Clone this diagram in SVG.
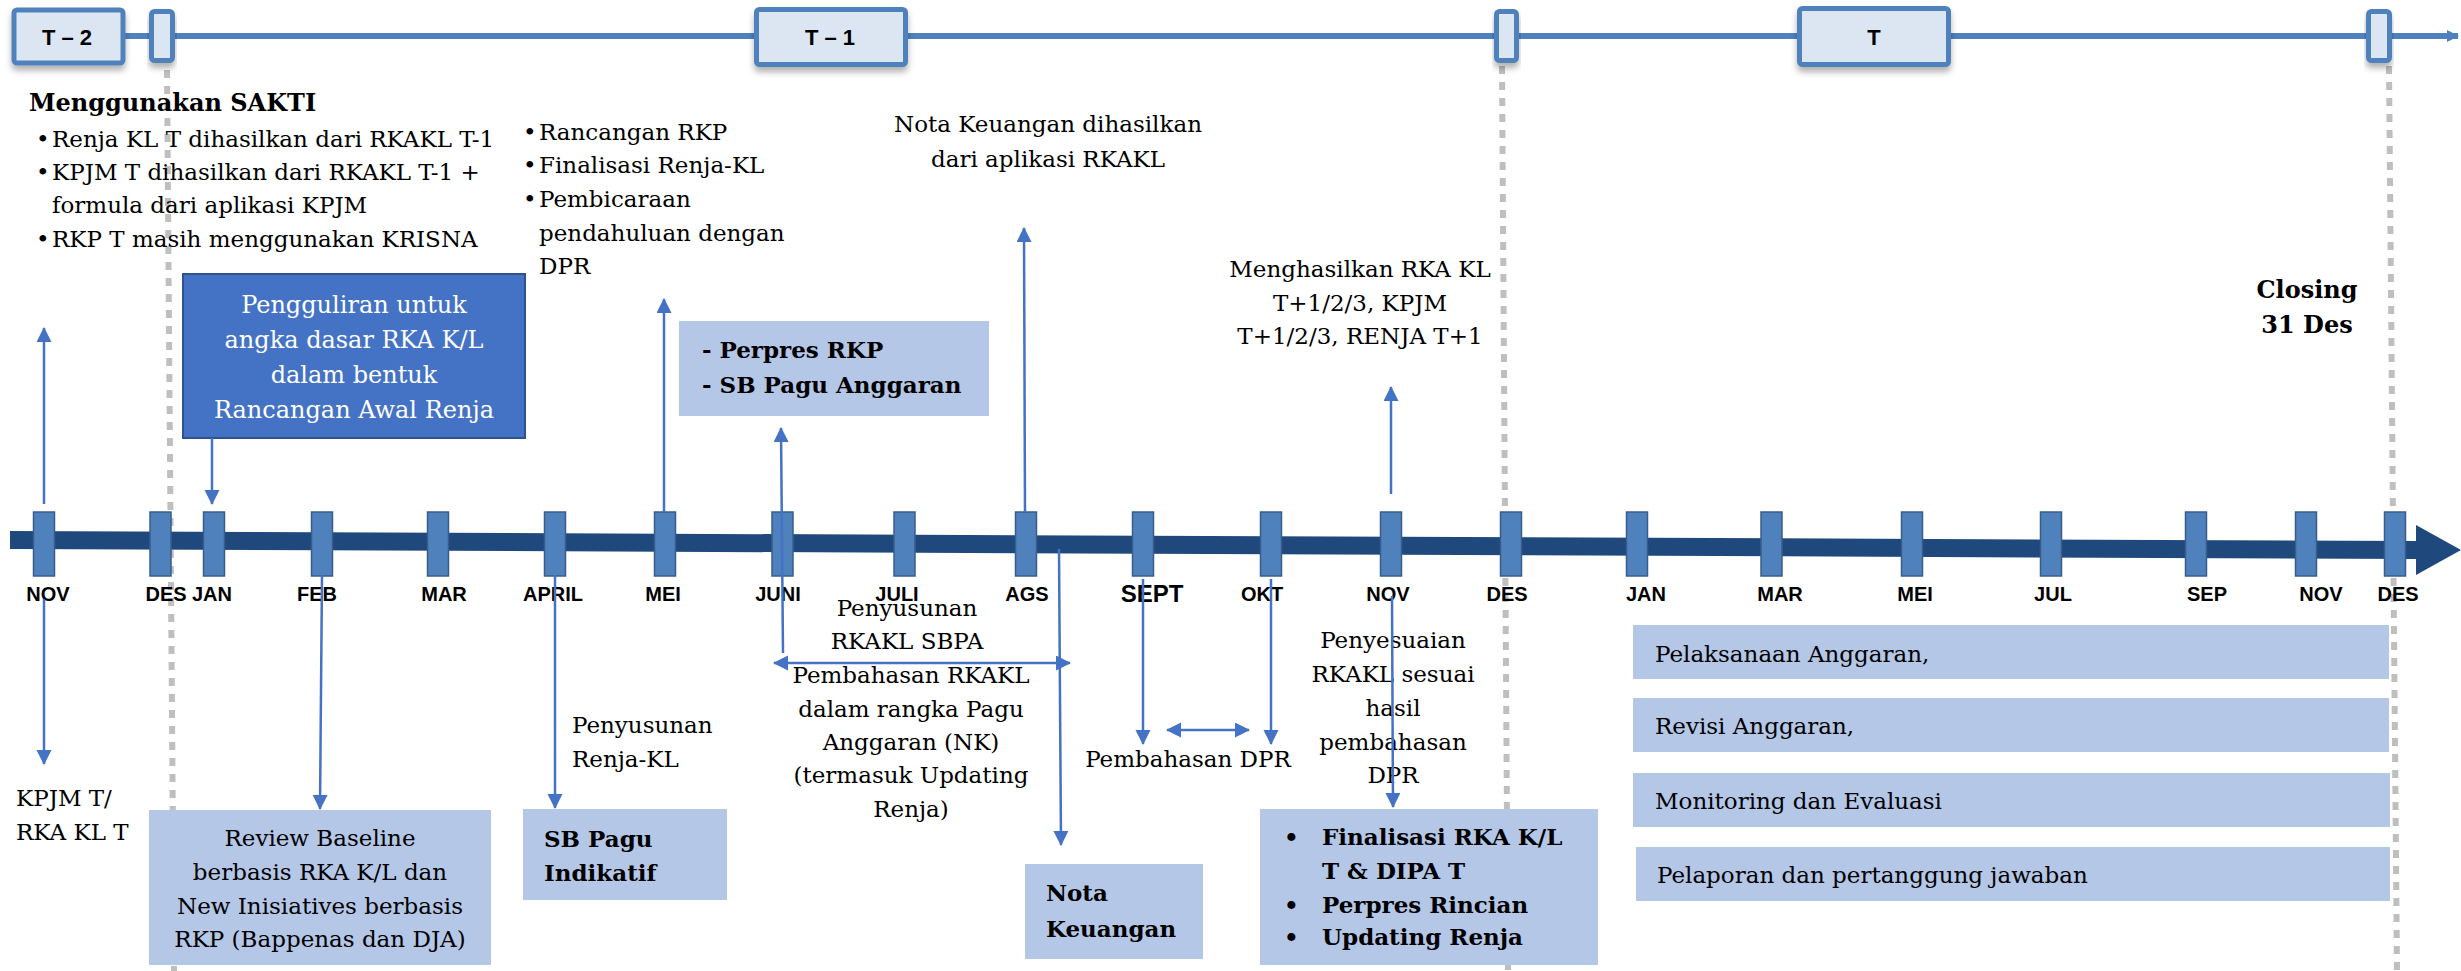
<svg xmlns="http://www.w3.org/2000/svg" width="2461" height="971" viewBox="0 0 2461 971">
<style>
.t{font-family:"DejaVu Serif","Liberation Serif",serif;font-size:23px;fill:#000}
.b{font-weight:bold}
.c{text-anchor:middle}
.w{fill:#fff}
.m{font-family:"Liberation Sans",Arial,sans-serif;font-weight:bold;font-size:20px;text-anchor:middle;fill:#000}
.hd{font-family:"Liberation Sans",Arial,sans-serif;font-weight:bold;font-size:22px;text-anchor:middle;fill:#000}
.tick{fill:#4F81BD;stroke:#385D8A;stroke-width:1.5}
.tbox{fill:#DCE6F2;stroke:#4F81BD;stroke-width:5;filter:url(#sh)}
.lb{fill:#B4C7E7}
.arr{stroke:#4472C4;stroke-width:2.5;fill:none;marker-end:url(#ah)}
.dbl{marker-start:url(#ah)}
.dash{stroke:#BFBFBF;stroke-width:6;stroke-dasharray:8 8;fill:none}
</style>
<defs>
<marker id="ah" markerUnits="userSpaceOnUse" markerWidth="16" markerHeight="16" refX="14" refY="7.5" orient="auto-start-reverse"><path d="M0,0 L15,7.5 L0,15 z" fill="#4472C4"/></marker>
<marker id="ta" markerUnits="userSpaceOnUse" markerWidth="14" markerHeight="14" refX="11" refY="6" orient="auto"><path d="M0,0 L12,6 L0,12 z" fill="#4F81BD"/></marker>
<filter id="sh" x="-20%" y="-20%" width="140%" height="160%"><feDropShadow dx="0" dy="5" stdDeviation="3" flood-color="#000" flood-opacity="0.3"/></filter>
</defs>
<rect width="2461" height="971" fill="#fff"/>

<g id="guides">
<line class="dash" x1="167" y1="70" x2="174" y2="971"/>
<line class="dash" x1="1502" y1="66" x2="1508" y2="971"/>
<line class="dash" x1="2389" y1="66" x2="2397" y2="971"/>
</g>

<g id="top-timeline">
<line x1="120" y1="36" x2="2458" y2="36" stroke="#4F81BD" stroke-width="6" marker-end="url(#ta)"/>
<g id="box-t2"><rect class="tbox" x="14" y="10" width="109" height="53" rx="3"/><text class="hd" x="67" y="45">T – 2</text></g>
<g id="mark-1"><rect class="tbox" x="151.5" y="11.5" width="21" height="49" rx="3"/></g>
<g id="box-t1"><rect class="tbox" x="756.5" y="9.5" width="149" height="55" rx="3"/><text class="hd" x="830" y="45">T – 1</text></g>
<g id="mark-2"><rect class="tbox" x="1496.5" y="11.5" width="20" height="49" rx="3"/></g>
<g id="box-t"><rect class="tbox" x="1799.5" y="8.5" width="149" height="56" rx="3"/><text class="hd" x="1874" y="45">T</text></g>
<g id="mark-3"><rect class="tbox" x="2368.5" y="11.5" width="21" height="49" rx="3"/></g>
</g>

<g id="main-timeline">
<polygon points="10,531 2418,541 2418,559 10,549" fill="#1F497D"/>
<polygon points="2416,525 2461,550 2416,575" fill="#1F497D"/>
<g id="ticks">
<rect class="tick" x="33.5" y="512" width="21" height="64"/>
<rect class="tick" x="150" y="512" width="21" height="64"/>
<rect class="tick" x="203.5" y="512" width="21" height="64"/>
<rect class="tick" x="311.5" y="512" width="21" height="64"/>
<rect class="tick" x="427.5" y="512" width="21" height="64"/>
<rect class="tick" x="544.5" y="512" width="21" height="64"/>
<rect class="tick" x="654.5" y="512" width="21" height="64"/>
<rect class="tick" x="772" y="512" width="21" height="64"/>
<rect class="tick" x="894" y="512" width="21" height="64"/>
<rect class="tick" x="1015.5" y="512" width="21" height="64"/>
<rect class="tick" x="1132.5" y="512" width="21" height="64"/>
<rect class="tick" x="1260.5" y="512" width="21" height="64"/>
<rect class="tick" x="1380.5" y="512" width="21" height="64"/>
<rect class="tick" x="1500.5" y="512" width="21" height="64"/>
<rect class="tick" x="1626.5" y="512" width="21" height="64"/>
<rect class="tick" x="1761" y="512" width="21" height="64"/>
<rect class="tick" x="1901.5" y="512" width="21" height="64"/>
<rect class="tick" x="2040.5" y="512" width="21" height="64"/>
<rect class="tick" x="2185.5" y="512" width="21" height="64"/>
<rect class="tick" x="2295.5" y="512" width="21" height="64"/>
<rect class="tick" x="2384.5" y="512" width="21" height="64"/>
</g>
<g id="month-labels">
<text class="m" x="48" y="601">NOV</text>
<text class="m" x="166" y="601">DES</text>
<text class="m" x="212" y="601">JAN</text>
<text class="m" x="317" y="601">FEB</text>
<text class="m" x="444" y="601">MAR</text>
<text class="m" x="553" y="601">APRIL</text>
<text class="m" x="663" y="601">MEI</text>
<text class="m" x="778" y="601">JUNI</text>
<text class="m" x="897" y="601">JULI</text>
<text class="m" x="1027" y="601">AGS</text>
<text class="m" x="1152" y="602" style="font-size:24px">SEPT</text>
<text class="m" x="1262" y="601">OKT</text>
<text class="m" x="1388" y="601">NOV</text>
<text class="m" x="1507" y="601">DES</text>
<text class="m" x="1646" y="601">JAN</text>
<text class="m" x="1780" y="601">MAR</text>
<text class="m" x="1915" y="601">MEI</text>
<text class="m" x="2053" y="601">JUL</text>
<text class="m" x="2207" y="601">SEP</text>
<text class="m" x="2321" y="601">NOV</text>
<text class="m" x="2398" y="601">DES</text>
</g>
</g>

<g id="note-sakti">
<text class="t b" x="29" y="111" style="font-size:24px">Menggunakan SAKTI</text>
<text class="t" x="36" y="147">•</text><text class="t" x="52" y="147">Renja KL T dihasilkan dari RKAKL T-1</text>
<text class="t" x="36" y="180">•</text><text class="t" x="52" y="180">KPJM T dihasilkan dari RKAKL T-1 +</text>
<text class="t" x="52" y="213">formula dari aplikasi KPJM</text>
<text class="t" x="36" y="247">•</text><text class="t" x="52" y="247">RKP T masih menggunakan KRISNA</text>
</g>

<g id="note-rkp">
<text class="t" x="523" y="140">•</text><text class="t" x="539" y="140">Rancangan RKP</text>
<text class="t" x="523" y="173">•</text><text class="t" x="539" y="173">Finalisasi Renja-KL</text>
<text class="t" x="523" y="207">•</text><text class="t" x="539" y="207">Pembicaraan</text>
<text class="t" x="539" y="241">pendahuluan dengan</text>
<text class="t" x="539" y="274">DPR</text>
</g>

<g id="note-nota">
<text class="t c" x="1048" y="132">Nota Keuangan dihasilkan</text>
<text class="t c" x="1048" y="167">dari aplikasi RKAKL</text>
</g>

<g id="note-menghasilkan">
<text class="t c" x="1360" y="277">Menghasilkan RKA KL</text>
<text class="t c" x="1360" y="311">T+1/2/3, KPJM</text>
<text class="t c" x="1360" y="344">T+1/2/3, RENJA T+1</text>
</g>

<g id="note-closing">
<text class="t b c" x="2307" y="298" style="font-size:24px">Closing</text>
<text class="t b c" x="2307" y="333" style="font-size:24px">31 Des</text>
</g>

<g id="box-pengguliran">
<rect x="183" y="274" width="342" height="164" fill="#4472C4" stroke="#2F528F" stroke-width="2"/>
<text class="t c w" x="354" y="313" style="font-size:24px">Pengguliran untuk</text>
<text class="t c w" x="354" y="348" style="font-size:24px">angka dasar RKA K/L</text>
<text class="t c w" x="354" y="383" style="font-size:24px">dalam bentuk</text>
<text class="t c w" x="354" y="418" style="font-size:24px">Rancangan Awal Renja</text>
</g>

<g id="box-perpres">
<rect class="lb" x="679" y="321" width="310" height="95"/>
<text class="t b" x="702" y="358">- Perpres RKP</text>
<text class="t b" x="702" y="393">- SB Pagu Anggaran</text>
</g>

<g id="note-kpjm">
<text class="t" x="16" y="806">KPJM T/</text>
<text class="t" x="16" y="840">RKA KL T</text>
</g>

<g id="box-review">
<rect class="lb" x="149" y="810" width="342" height="155"/>
<text class="t c" x="320" y="846">Review Baseline</text>
<text class="t c" x="320" y="880">berbasis RKA K/L dan</text>
<text class="t c" x="320" y="914">New Inisiatives berbasis</text>
<text class="t c" x="320" y="947">RKP (Bappenas dan DJA)</text>
</g>

<g id="note-penyusunan-renja">
<text class="t" x="572" y="733">Penyusunan</text>
<text class="t" x="572" y="767">Renja-KL</text>
</g>

<g id="box-sbpagu">
<rect class="lb" x="523" y="809" width="204" height="91"/>
<text class="t b" x="544" y="847">SB Pagu</text>
<text class="t b" x="544" y="881">Indikatif</text>
</g>

<g id="note-rkakl-sbpa">
<text class="t c" x="907" y="616">Penyusunan</text>
<text class="t c" x="907" y="649">RKAKL SBPA</text>
<text class="t c" x="911" y="683">Pembahasan RKAKL</text>
<text class="t c" x="911" y="717">dalam rangka Pagu</text>
<text class="t c" x="911" y="750">Anggaran (NK)</text>
<text class="t c" x="911" y="783">(termasuk Updating</text>
<text class="t c" x="911" y="817">Renja)</text>
</g>

<g id="note-dpr">
<text class="t c" x="1188" y="767">Pembahasan DPR</text>
</g>

<g id="note-penyesuaian">
<text class="t c" x="1393" y="648">Penyesuaian</text>
<text class="t c" x="1393" y="682">RKAKL sesuai</text>
<text class="t c" x="1393" y="716">hasil</text>
<text class="t c" x="1393" y="750">pembahasan</text>
<text class="t c" x="1393" y="783">DPR</text>
</g>

<g id="box-nota">
<rect class="lb" x="1025" y="864" width="178" height="95"/>
<text class="t b" x="1046" y="901">Nota</text>
<text class="t b" x="1046" y="937">Keuangan</text>
</g>

<g id="box-finalisasi">
<rect class="lb" x="1260" y="809" width="338" height="156"/>
<text class="t b" x="1284" y="845">•</text><text class="t b" x="1322" y="845">Finalisasi RKA K/L</text>
<text class="t b" x="1322" y="879">T &amp; DIPA T</text>
<text class="t b" x="1284" y="913">•</text><text class="t b" x="1322" y="913">Perpres Rincian</text>
<text class="t b" x="1284" y="945">•</text><text class="t b" x="1322" y="945">Updating Renja</text>
</g>

<g id="box-pelaksanaan"><rect class="lb" x="1633" y="625" width="756" height="54"/><text class="t" x="1655" y="662">Pelaksanaan Anggaran,</text></g>
<g id="box-revisi"><rect class="lb" x="1633" y="698" width="756" height="54"/><text class="t" x="1655" y="734">Revisi Anggaran,</text></g>
<g id="box-monev"><rect class="lb" x="1633" y="773" width="757" height="54"/><text class="t" x="1655" y="809">Monitoring dan Evaluasi</text></g>
<g id="box-pelaporan"><rect class="lb" x="1636" y="847" width="754" height="54"/><text class="t" x="1657" y="883">Pelaporan dan pertanggung jawaban</text></g>

<g id="connectors">
<line class="arr" x1="44" y1="504" x2="44" y2="328"/>
<line class="arr" x1="44" y1="599" x2="44" y2="764"/>
<line class="arr" x1="212" y1="438" x2="212" y2="504"/>
<line class="arr" x1="664" y1="512" x2="664" y2="299"/>
<line class="arr" x1="783" y1="653" x2="781" y2="428"/>
<line class="arr dbl" x1="774" y1="663" x2="1070" y2="663"/>
<line class="arr" x1="1025" y1="512" x2="1024" y2="228"/>
<line class="arr" x1="1059" y1="549" x2="1061" y2="845"/>
<line class="arr" x1="1143" y1="579" x2="1143" y2="744"/>
<line class="arr" x1="1271" y1="579" x2="1271" y2="744"/>
<line class="arr dbl" x1="1167" y1="730" x2="1249" y2="730"/>
<line class="arr" x1="1391" y1="494" x2="1391" y2="387"/>
<line class="arr" x1="1392" y1="596" x2="1393" y2="807"/>
<line class="arr" x1="322" y1="575" x2="320" y2="809"/>
<line class="arr" x1="555" y1="575" x2="555" y2="808"/>
</g>
</svg>
